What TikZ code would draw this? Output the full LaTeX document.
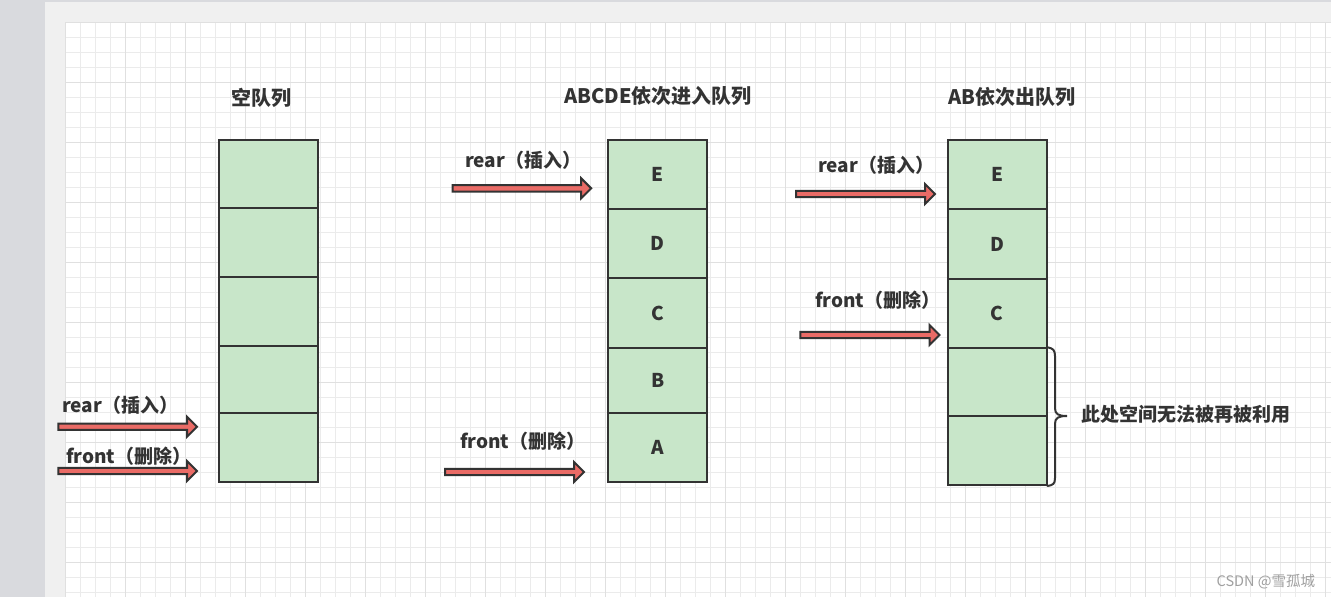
\documentclass[tikz,border=0pt]{standalone}
\usepackage{fontspec}
\setmainfont{Noto Sans CJK SC}
\usetikzlibrary{calc}
\definecolor{ink}{HTML}{333333}
\definecolor{sidegray}{HTML}{D9DADE}
\definecolor{panelgray}{HTML}{F0F0F0}
\definecolor{minorgrid}{HTML}{EBEBEB}
\definecolor{majorgrid}{HTML}{E0E0E0}
\definecolor{cellgreen}{HTML}{C8E6C9}
\definecolor{arrowred}{HTML}{EA6B66}
\definecolor{wmgray}{HTML}{A0A0A0}
\tikzset{
  cell/.style={draw=ink, fill=cellgreen, line width=2pt, minimum width=99pt, inner sep=0pt, text=ink,
    font=\fontsize{19}{19}\selectfont\bfseries},
  title/.style={text=ink, inner sep=0pt, font=\fontsize{20}{20}\selectfont\bfseries},
  lbl/.style={text=ink, inner sep=0pt, anchor=west, font=\fontsize{19}{19}\selectfont\bfseries},
  blockarrow/.style={draw=ink, fill=arrowred, line width=2pt, line join=miter},
  bracestyle/.style={draw=ink, line width=2pt, line cap=round},
  minorline/.style={draw=minorgrid, line width=1pt},
  majorline/.style={draw=majorgrid, line width=1pt},
}
\newcommand{\mkblockarrow}[2]{%
  \path[blockarrow] ($(#1)+(0,3.2)$) -- ($(#2)+(-10,3.2)$) -- ($(#2)+(-10,10)$) -- (#2)
    -- ($(#2)+(-10,-10)$) -- ($(#2)+(-10,-3.2)$) -- ($(#1)+(0,-3.2)$) -- cycle;}
\begin{document}
\begin{tikzpicture}[x=1pt,y=-1pt]
\useasboundingbox (0,0) rectangle (1331,597);
% background
\fill[sidegray] (0,0) rectangle (1331,597);
\fill[panelgray] (45,2) rectangle (1331,597);
\fill[white] (65.7,22.3) rectangle (1331,597);
\foreach \i in {0,...,84} { \path[minorline] ({65.7+15*\i},22.3) -- ({65.7+15*\i},597); }
\foreach \j in {0,...,38} { \path[minorline] (65.7,{22.3+15*\j}) -- (1331,{22.3+15*\j}); }
\foreach \i in {0,...,21} { \path[majorline] ({65.7+60*\i},22.3) -- ({65.7+60*\i},597); }
\foreach \j in {0,...,9} { \path[majorline] (65.7,{22.3+60*\j}) -- (1331,{22.3+60*\j}); }

% titles
\node[title] (t1) at (261.5,98) {空队列};
\node[title] (t2) at (658,96) {ABCDE依次进入队列};
\node[title] (t3) at (1012,96.5) {AB依次出队列};

% column 1 (boundaries 140,208,276.5,345.5,413,482)
\node[cell, minimum height=68pt]   (a1) at (268,174) {};
\node[cell, minimum height=68.5pt] (a2) at (268,242.25) {};
\node[cell, minimum height=69pt]   (a3) at (268,311) {};
\node[cell, minimum height=67.5pt] (a4) at (268,379.25) {};
\node[cell, minimum height=69pt]   (a5) at (268,447.5) {};

% column 2 (boundaries 140,209,278,348,413,482)
\node[cell, minimum height=69pt] (b1) at (657.7,174.5) {E};
\node[cell, minimum height=69pt] (b2) at (657.7,243.5) {D};
\node[cell, minimum height=70pt] (b3) at (657.7,313) {C};
\node[cell, minimum height=65pt] (b4) at (657.7,380.5) {B};
\node[cell, minimum height=69pt] (b5) at (657.7,447.5) {A};

% column 3 (boundaries 140,209,279,348.3,416,485)
\node[cell, minimum height=69pt]   (c1) at (997,174.5) {E};
\node[cell, minimum height=70pt]   (c2) at (997,244) {D};
\node[cell, minimum height=69.3pt] (c3) at (997,313.65) {C};
\node[cell, minimum height=67.7pt] (c4) at (997,382.15) {};
\node[cell, minimum height=69pt]   (c5) at (997,450.5) {};

% arrows
\coordinate (ar1t) at (58.3,426.7);  \coordinate (ar1h) at (197,426.7);
\coordinate (af1t) at (58.3,471);    \coordinate (af1h) at (197,471);
\coordinate (ar2t) at (452.7,188.3); \coordinate (ar2h) at (591.2,188.3);
\coordinate (af2t) at (445,472);     \coordinate (af2h) at (584,472);
\coordinate (ar3t) at (796,194);     \coordinate (ar3h) at (935,194);
\coordinate (af3t) at (800.3,335);   \coordinate (af3h) at (939.5,335);
\mkblockarrow{ar1t}{ar1h}
\mkblockarrow{af1t}{af1h}
\mkblockarrow{ar2t}{ar2h}
\mkblockarrow{af2t}{af2h}
\mkblockarrow{ar3t}{ar3h}
\mkblockarrow{af3t}{af3h}

% arrow labels
\node[lbl] (lr1) at (62,405)   {rear（插入）};
\node[lbl] (lf1) at (66,456)   {front（删除）};
\node[lbl] (lr2) at (465,160.7) {rear（插入）};
\node[lbl] (lf2) at (460,441)  {front（删除）};
\node[lbl] (lr3) at (818,165)  {rear（插入）};
\node[lbl] (lf3) at (815,300.7) {front（删除）};

% brace
\coordinate (brtop) at (c4.north east);
\coordinate (brbot) at (c5.south east);
\coordinate (brtip) at (1067,416);
\path[bracestyle] (brtop) .. controls (1053,348.3) and (1055,350) .. (1055,356)
  -- (1055,408) .. controls (1055,414) and (1058,416) .. (brtip)
  .. controls (1058,416) and (1055,418) .. (1055,424)
  -- (1055,478) .. controls (1055,484) and (1053,485) .. (brbot);
\node[lbl] (note) at (1081,414) {此处空间无法被再被利用};

% watermark
\node[anchor=west, inner sep=0pt, text=wmgray, font=\fontsize{14.5}{14.5}\selectfont] (wm) at (1216.5,581.7) {CSDN @雪孤城};
\end{tikzpicture}
\end{document}
